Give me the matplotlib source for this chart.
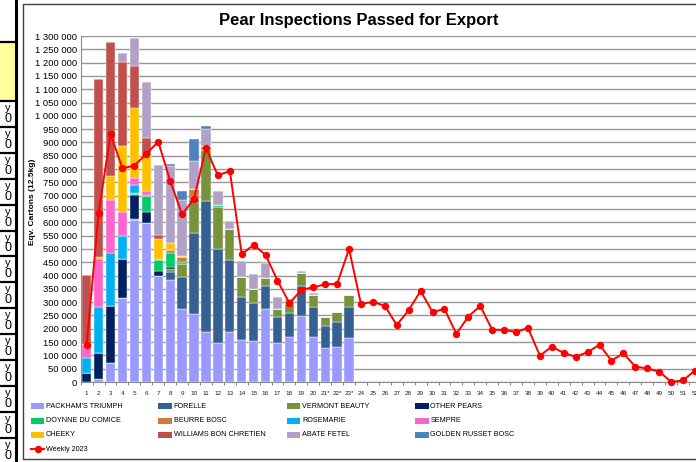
import numpy as np
import matplotlib
matplotlib.use("Agg")
import matplotlib.pyplot as plt
from matplotlib import font_manager
from matplotlib.patches import Rectangle
from matplotlib.lines import Line2D
from matplotlib.ticker import FuncFormatter, MultipleLocator

# ---- data (cartons) ----
weeks = list(range(1, 53))
week_labels = [str(w) for w in weeks]
week_labels[20:23] = ["21*", "22*", "23*"]

varieties = ["PACKHAM'S TRIUMPH", "FORELLE", "VERMONT BEAUTY", "OTHER PEARS",
             "DOYNNE DU COMICE", "BEURRE BOSC", "ROSEMARIE", "SEMPRE",
             "CHEEKY", "WILLIAMS BON CHRETIEN", "ABATE FETEL", "GOLDEN RUSSET BOSC"]
colors = ["#9999FF", "#376092", "#77933C", "#002060",
          "#00CC66", "#D07A3A", "#00B0F0", "#FF66CC",
          "#FFC000", "#C0504D", "#B2A1C7", "#4F81BD"]

# weeks 1-23, thousands of cartons
packham = [0, 11, 73, 317, 609, 596, 400, 383, 273, 256, 189, 148, 189,
           158, 155, 274, 146, 168, 248, 170, 127, 133, 167]
forelle = [0, 0, 0, 0, 0, 0, 0, 29, 123, 303, 492, 351, 270,
           160, 141, 88, 100, 90, 114, 113, 85, 91, 116]
vermont = [0, 0, 0, 0, 2, 0, 0, 12, 46, 119, 191, 160, 115,
           78, 54, 30, 27, 35, 47, 44, 34, 40, 44]
other = [33, 99, 214, 144, 92, 44, 17, 7, 0, 6, 0, 0, 0,
         0, 0, 0, 0, 0, 0, 0, 0, 0, 0]
comice = [0, 0, 0, 0, 4, 57, 42, 53, 9, 0, 0, 7, 0,
          0, 0, 0, 0, 0, 0, 0, 0, 0, 0]
beurre = [0, 0, 0, 0, 4, 0, 0, 12, 20, 40, 15, 0, 0,
          0, 0, 0, 0, 0, 0, 0, 0, 0, 0]
rosemarie = [58, 173, 197, 89, 30, 7, 2, 0, 0, 0, 0, 0, 0,
             0, 0, 0, 0, 0, 0, 0, 0, 0, 0]
sempre = [52, 178, 200, 87, 27, 12, 0, 0, 0, 0, 0, 0, 0,
          0, 0, 0, 0, 0, 0, 0, 0, 0, 0]
cheeky = [0, 8, 90, 248, 263, 135, 77, 28, 4, 0, 0, 0, 0,
          0, 0, 0, 0, 0, 0, 0, 0, 0, 0]
williams = [258, 669, 505, 318, 158, 67, 13, 0, 0, 0, 0, 0, 0,
            0, 0, 0, 0, 0, 0, 0, 0, 0, 0]
abate = [0, 0, 0, 35, 103, 208, 263, 286, 209, 107, 63, 53, 31,
         59, 56, 54, 45, 18, 8, 9, 0, 0, 0]
golden = [0, 0, 0, 0, 0, 0, 0, 8, 34, 81, 10, 0, 0,
          0, 0, 0, 0, 0, 0, 0, 0, 0, 0]

weekly_2023 = [139, 634, 932, 803, 813, 857, 903, 756, 630, 688, 879, 776, 793,
               481, 515, 478, 381, 296, 346, 356, 367, 369, 500, 293, 301, 286,
               214, 270, 342, 263, 274, 181, 246, 286, 196, 196, 188, 203, 99,
               133, 109, 95, 112, 140, 80, 108, 58, 51, 39, 1, 6, 43]

series = [packham, forelle, vermont, other, comice, beurre,
          rosemarie, sempre, cheeky, williams, abate, golden]

# ---- fonts ----
installed = {f.name for f in font_manager.fontManager.ttflist}
narrow = "Liberation Sans Narrow" in installed
plt.rcParams["font.family"] = ["Liberation Sans", "DejaVu Sans"]
legend_font = ["Liberation Sans Narrow", "DejaVu Sans"] if narrow else ["Liberation Sans", "DejaVu Sans"]
legend_size = 6.1 if narrow else 5.2

W, H = 696, 462
fig = plt.figure(figsize=(W / 100, H / 100), dpi=100)


def fx(px):
    return px / W


def fy(py):
    return 1 - py / H


# stray spreadsheet cells on the left edge
fig.patches.append(Rectangle((0, fy(101)), fx(15), fy(42) - fy(101),
                             transform=fig.transFigure, facecolor="#FFFF99",
                             edgecolor="none", zorder=0))
for yy in [42] + list(101 + 25.9 * np.arange(14)):
    fig.add_artist(Line2D([0, fx(16)], [fy(yy), fy(yy)], transform=fig.transFigure,
                          color="black", lw=1.6))
for yy in 101 + 25.9 * np.arange(14):
    fig.text(fx(11), fy(yy + 7), "y", ha="right", va="center", fontsize=8)
    fig.text(fx(11), fy(yy + 18), "0", ha="right", va="center", fontsize=9)
fig.add_artist(Line2D([fx(16), fx(16)], [0, 1], transform=fig.transFigure,
                      color="black", lw=2.2))

# chart frame
fig.add_artist(Line2D([fx(710), fx(22.7), fx(22.7), fx(710)],
                      [fy(3.5), fy(3.5), fy(459), fy(459)],
                      transform=fig.transFigure, color="#404040", lw=1.0))

# ---- plot area ----
left, right, top, bottom = 80.7, 700.9, 36, 382
ax = fig.add_axes([fx(left), fy(bottom), fx(right - left), (bottom - top) / H])

x_bars = np.arange(1, len(packham) + 1)
base = np.zeros(len(packham))
for vals, col in zip(series, colors):
    v = np.array(vals) * 1000.0
    ax.bar(x_bars, v, bottom=base, width=0.78, color=col,
           edgecolor="white", linewidth=0.3, zorder=2)
    base += v

ax.plot(weeks, np.array(weekly_2023) * 1000.0, color="#FF0000", lw=1.4,
        marker="o", markersize=4.3, zorder=4, clip_on=False)

ax.set_xlim(0.5, 52.5)
ax.set_ylim(0, 1300000)
ax.yaxis.set_major_locator(MultipleLocator(50000))
ax.yaxis.set_major_formatter(FuncFormatter(lambda v, p: f"{int(v):,}".replace(",", " ")))
ax.set_xticks(weeks)
ax.set_xticklabels(week_labels)
ax.set_xticks(np.arange(0.5, 53, 1), minor=True)
ax.tick_params(axis="x", which="major", length=0, pad=6.5, labelsize=4.6, colors="#222222")
ax.tick_params(axis="x", which="minor", length=2.2, width=0.7, color="#808080")
ax.tick_params(axis="y", length=0, pad=2.5, labelsize=6.8)

ax.grid(axis="y", color="#969696", lw=1.0, zorder=0)
ax.set_axisbelow(True)
for s in ["top", "right"]:
    ax.spines[s].set_visible(False)
ax.spines["left"].set_color("#8C8C8C")
ax.spines["bottom"].set_color("#8C8C8C")

ax.set_ylabel("Eqv. Cartons (12.5kg)", fontsize=6, fontweight="bold")
ax.yaxis.set_label_coords((36 - left) / (right - left), 0.52)

fig.text(fx(359), fy(20), "Pear Inspections Passed for Export",
         ha="center", va="center", fontsize=12, fontweight="bold")

# ---- legend (Excel style, row-wise, 4 columns) ----
col_x = [30.7, 158.3, 286.7, 415.0]
row_y = [406, 420.5, 435, 449.3]
entries = list(zip(varieties, colors)) + [("Weekly 2023", None)]
for i, (name, col) in enumerate(entries):
    cx, cy = col_x[i % 4], row_y[i // 4]
    if col is not None:
        fig.patches.append(Rectangle((fx(cx), fy(cy + 3)), fx(13.7), 6 / H,
                                     transform=fig.transFigure, facecolor=col,
                                     edgecolor="none"))
    else:
        fig.add_artist(Line2D([fx(cx), fx(cx + 13.7)], [fy(cy), fy(cy)],
                              transform=fig.transFigure, color="#FF0000", lw=1.4))
        fig.add_artist(Line2D([fx(cx + 6.85)], [fy(cy)], transform=fig.transFigure,
                              color="#FF0000", marker="o", markersize=4.3))
    fig.text(fx(cx + 15.3), fy(cy), name, ha="left", va="center",
             fontsize=legend_size, family=legend_font)

fig.savefig("out.png", dpi=100)
